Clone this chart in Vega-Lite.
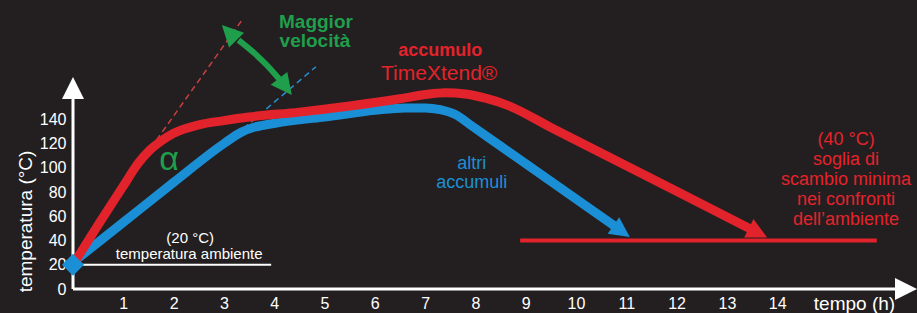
{
  "$schema": "https://vega.github.io/schema/vega-lite/v6.json",
  "width": 844,
  "height": 212,
  "autosize": {"type": "none"},
  "padding": {"left": 73, "top": 77, "right": 0, "bottom": 24},
  "background": "#231f20",
  "config": {"view": {"stroke": null}, "font": "Liberation Sans"},
  "encoding": {
    "x": {
      "field": "t", "type": "quantitative",
      "scale": {"domain": [0, 16.78], "nice": false, "zero": false},
      "axis": {
        "values": [1, 2, 3, 4, 5, 6, 7, 8, 9, 10, 11, 12, 13, 14],
        "domain": false, "ticks": false, "grid": false,
        "labelColor": "#ffffff", "labelFontSize": 16, "labelPadding": 6,
        "labelFlush": false, "labelOverlap": false,
        "title": "tempo (h)", "titleColor": "#ffffff", "titleFontSize": 19,
        "titleFontWeight": "normal", "titleX": 781, "titleY": 20,
        "titleBaseline": "alphabetic", "titleAlign": "center"
      }
    },
    "y": {
      "field": "T", "type": "quantitative",
      "scale": {"domain": [0, 175], "nice": false, "zero": false},
      "axis": {
        "values": [0, 20, 40, 60, 80, 100, 120, 140],
        "domain": false, "ticks": false, "grid": false,
        "labelColor": "#ffffff", "labelFontSize": 16, "labelPadding": 7,
        "labelFlush": false, "labelOverlap": false,
        "title": "temperatura (°C)", "titleColor": "#ffffff", "titleFontSize": 19,
        "titleFontWeight": "normal", "titleX": -48, "titleY": 144, "titleAngle": -90,
        "titleBaseline": "middle", "titleAlign": "center"
      }
    }
  },
  "layer": [
    {
      "data": {"values": [{"t": 1.66, "T": 123}, {"t": 3.36, "T": 222}]},
      "mark": {"type": "line", "color": "#c8403f", "strokeWidth": 1.5, "strokeDash": [6, 4]}
    },
    {
      "data": {"values": [{"t": 3.39, "T": 132.6}, {"t": 4.83, "T": 183.5}]},
      "mark": {"type": "line", "color": "#2a8fd2", "strokeWidth": 1.5, "strokeDash": [6, 4]}
    },
    {
      "data": {"values": [{"t": 0, "T": 0, "T2": 157}]},
      "mark": {"type": "rule", "color": "#ffffff", "strokeWidth": 3},
      "encoding": {"y2": {"field": "T2"}}
    },
    {
      "data": {"values": [{"t": 0, "t2": 16.4, "T": 0}]},
      "mark": {"type": "rule", "color": "#ffffff", "strokeWidth": 3},
      "encoding": {"x2": {"field": "t2"}}
    },
    {
      "data": {"values": [{"t": 0, "t2": 3.94, "T": 20}]},
      "mark": {"type": "rule", "color": "#ffffff", "strokeWidth": 1.8},
      "encoding": {"x2": {"field": "t2"}}
    },
    {
      "data": {"values": [{"t": 8.89, "t2": 15.98, "T": 40}]},
      "mark": {"type": "rule", "color": "#e3232b", "strokeWidth": 4},
      "encoding": {"x2": {"field": "t2"}}
    },
    {
      "data": {"values": [
        {"t": 0, "T": 22}, {"t": 1.0, "T": 55}, {"t": 2.0, "T": 88}, {"t": 3.0, "T": 120},
        {"t": 3.35, "T": 129.5}, {"t": 3.6, "T": 133.5}, {"t": 3.9, "T": 136}, {"t": 4.45, "T": 139.5},
        {"t": 5.0, "T": 142}, {"t": 6.0, "T": 147.5}, {"t": 6.6, "T": 149.5}, {"t": 7.0, "T": 149.5},
        {"t": 7.3, "T": 148}, {"t": 7.6, "T": 144}, {"t": 7.95, "T": 134}, {"t": 8.5, "T": 118},
        {"t": 10.87, "T": 49}
      ]},
      "mark": {"type": "line", "color": "#1b8fd6", "strokeWidth": 9, "strokeCap": "butt", "strokeJoin": "round", "interpolate": "monotone"}
    },
    {
      "data": {"values": [
        {"t": 0, "T": 20}, {"t": 0.5, "T": 53}, {"t": 1.0, "T": 85}, {"t": 1.3, "T": 104},
        {"t": 1.5, "T": 113.5}, {"t": 1.75, "T": 122}, {"t": 2.0, "T": 128.5}, {"t": 2.5, "T": 135.5},
        {"t": 3.0, "T": 139}, {"t": 3.5, "T": 142}, {"t": 4.5, "T": 146}, {"t": 5.5, "T": 151},
        {"t": 6.5, "T": 157}, {"t": 7.0, "T": 160.5}, {"t": 7.4, "T": 162}, {"t": 7.8, "T": 161},
        {"t": 8.2, "T": 157.5}, {"t": 8.63, "T": 151.8}, {"t": 9.5, "T": 133.4}, {"t": 12.0, "T": 80.6},
        {"t": 13.5, "T": 49}
      ]},
      "mark": {"type": "line", "color": "#e3232b", "strokeWidth": 9, "strokeCap": "butt", "strokeJoin": "round", "interpolate": "monotone"}
    },
    {
      "data": {"values": [{"t": 13.8, "T": 42.5}]},
      "mark": {"type": "point", "shape": "M0,0L-1,2L1,2Z", "size": 420, "angle": 116.9, "filled": true, "opacity": 1, "color": "#e3232b"}
    },
    {
      "data": {"values": [{"t": 11.07, "T": 43}]},
      "mark": {"type": "point", "shape": "M0,0L-1,2L1,2Z", "size": 400, "angle": 125, "filled": true, "opacity": 1, "color": "#1b8fd6"}
    },
    {
      "data": {"values": [{"t": 0, "T": 175}]},
      "mark": {"type": "point", "shape": "M0,0L-1,2L1,2Z", "size": 484, "angle": 0, "filled": true, "opacity": 1, "color": "#ffffff"}
    },
    {
      "data": {"values": [{"t": 16.78, "T": 0}]},
      "mark": {"type": "point", "shape": "M0,0L-1,2L1,2Z", "size": 484, "angle": 90, "filled": true, "opacity": 1, "color": "#ffffff"}
    },
    {
      "data": {"values": [{"t": 0, "T": 20}]},
      "mark": {"type": "point", "shape": "diamond", "size": 484, "filled": true, "opacity": 1, "color": "#1b8fd6"}
    },
    {
      "data": {"values": [{"t": 3.29, "T": 205.5}, {"t": 3.61, "T": 194.5}, {"t": 3.85, "T": 184.9}, {"t": 4.1, "T": 173.3}]},
      "mark": {"type": "line", "color": "#1f9e4b", "strokeWidth": 6, "strokeCap": "butt", "interpolate": "monotone"}
    },
    {
      "data": {"values": [{"t": 2.96, "T": 217.9}]},
      "mark": {"type": "point", "shape": "M0,0L-1,2L1,2Z", "size": 441, "angle": 315.7, "filled": true, "opacity": 1, "color": "#1f9e4b"}
    },
    {
      "data": {"values": [{"t": 4.35, "T": 160.1}]},
      "mark": {"type": "point", "shape": "M0,0L-1,2L1,2Z", "size": 441, "angle": 142.4, "filled": true, "opacity": 1, "color": "#1f9e4b"}
    },
    {
      "data": {"values": [{"t": 4.83, "T": 215.5, "label": "Maggior"}, {"t": 4.81, "T": 199.5, "label": "velocità"}]},
      "mark": {"type": "text", "color": "#1f9e4b", "fontSize": 19, "fontWeight": "bold", "align": "center", "baseline": "alphabetic"},
      "encoding": {"text": {"field": "label"}}
    },
    {
      "data": {"values": [{"t": 7.3, "T": 192.3, "label": "accumulo"}]},
      "mark": {"type": "text", "color": "#e3232b", "fontSize": 18, "fontWeight": "bold", "align": "center", "baseline": "alphabetic"},
      "encoding": {"text": {"field": "label"}}
    },
    {
      "data": {"values": [{"t": 7.28, "T": 172.5, "label": "TimeXtend®"}]},
      "mark": {"type": "text", "color": "#e3232b", "fontSize": 21, "align": "center", "baseline": "alphabetic"},
      "encoding": {"text": {"field": "label"}}
    },
    {
      "data": {"values": [{"t": 1.91, "T": 98.2, "label": "α"}]},
      "mark": {"type": "text", "color": "#1f9e4b", "fontSize": 34, "align": "center", "baseline": "alphabetic"},
      "encoding": {"text": {"field": "label"}}
    },
    {
      "data": {"values": [{"t": 7.93, "T": 99, "label": "altri"}, {"t": 7.93, "T": 83.4, "label": "accumuli"}]},
      "mark": {"type": "text", "color": "#1b8fd6", "fontSize": 18, "align": "center", "baseline": "alphabetic"},
      "encoding": {"text": {"field": "label"}}
    },
    {
      "data": {"values": [
        {"t": 15.37, "T": 119, "label": "(40 °C)"},
        {"t": 15.37, "T": 102.4, "label": "soglia di"},
        {"t": 15.37, "T": 85.5, "label": "scambio minima"},
        {"t": 15.37, "T": 69, "label": "nei confronti"},
        {"t": 15.37, "T": 52.8, "label": "dell’ambiente"}
      ]},
      "mark": {"type": "text", "color": "#e3232b", "fontSize": 18, "align": "center", "baseline": "alphabetic"},
      "encoding": {"text": {"field": "label"}}
    },
    {
      "data": {"values": [{"t": 2.33, "T": 38.3, "label": "(20 °C)"}, {"t": 2.31, "T": 24.8, "label": "temperatura ambiente"}]},
      "mark": {"type": "text", "color": "#ffffff", "fontSize": 15, "align": "center", "baseline": "alphabetic"},
      "encoding": {"text": {"field": "label"}}
    }
  ]
}
